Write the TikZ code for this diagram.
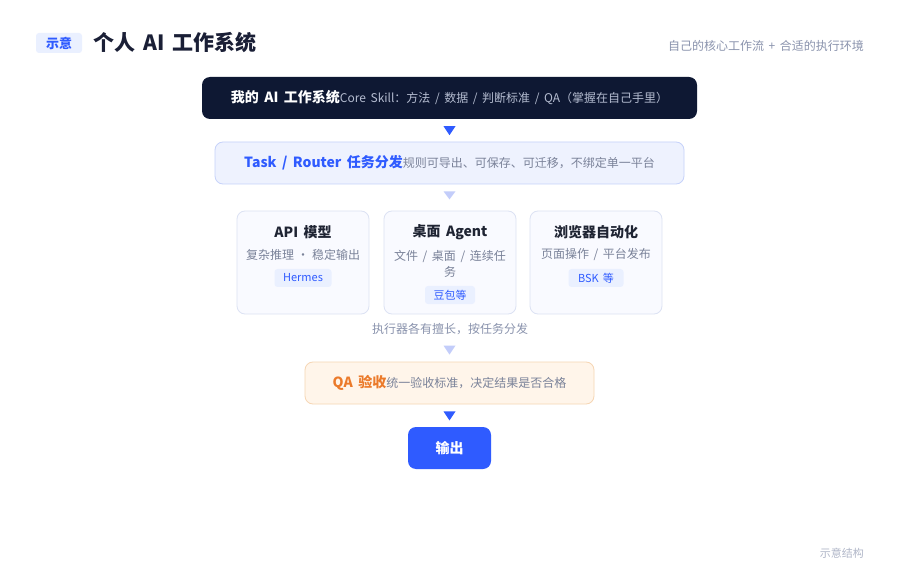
\documentclass[tikz,border=0pt]{standalone}
\usepackage{fontspec}
\setmainfont{Noto Sans CJK SC}[WordSpace=1.7]
\usetikzlibrary{calc}
\definecolor{navy}{HTML}{0E1833}
\definecolor{brand}{HTML}{2F5BFF}
\definecolor{lav}{HTML}{C3CDFA}
\definecolor{rfill}{HTML}{EEF2FE}
\definecolor{rline}{HTML}{C6D2FA}
\definecolor{cfill}{HTML}{F9FAFF}
\definecolor{cline}{HTML}{DCE2F3}
\definecolor{subg}{HTML}{7A8299}
\definecolor{capg}{HTML}{8A93AD}
\definecolor{ttl}{HTML}{1A1F36}
\definecolor{ctitle}{HTML}{1F2433}
\definecolor{orng}{HTML}{EB7A2A}
\definecolor{qfill}{HTML}{FFF5EA}
\definecolor{qline}{HTML}{F6D6B4}
\definecolor{tagfill}{HTML}{EAF0FF}
\definecolor{lightg}{HTML}{B0B6C8}
\definecolor{coreg}{HTML}{B4BCD0}
\tikzset{
  box/.style={rounded corners=8pt, minimum height=42pt, inner sep=0pt},
  card/.style={rounded corners=8pt, draw=cline, fill=cfill, line width=0.8pt, minimum width=132pt, minimum height=103pt, inner sep=0pt},
  tagbox/.style={rounded corners=3pt, fill=tagfill, text=brand, inner sep=0pt, minimum height=18pt, font=\fontsize{11}{13}\selectfont},
  ctit/.style={text=ctitle, font=\bfseries\fontsize{14}{17}\selectfont, inner sep=0pt},
  csub/.style={text=subg, font=\fontsize{12}{16}\selectfont, inner sep=0pt, align=center},
}
\begin{document}
\begin{tikzpicture}[x=1pt,y=-1pt]
\useasboundingbox[fill=white] (0,0) rectangle (900,580);
% header
\node[rounded corners=3pt, fill=tagfill, text=brand, font=\bfseries\fontsize{13}{15}\selectfont, minimum width=46pt, minimum height=20pt, inner sep=0pt] (tag) at (59,43) {示意};
\node[anchor=west, text=ttl, font=\bfseries\fontsize{21}{25}\selectfont, inner sep=0pt] (title) at (93,43) {个人\hspace{8pt}AI\hspace{8pt}工作系统};
\node[anchor=east, text=capg, font=\fontsize{12}{14}\selectfont, inner sep=0pt] (subt) at (864,46) {自己的核心工作流 + 合适的执行环境};
% box 1
\node[box, fill=navy, minimum width=495pt] (core) at (449.5,98) {{\bfseries\fontsize{14}{17}\selectfont\color{white}我的 AI 工作系统}{\fontsize{12}{14}\selectfont\color{coreg}Core Skill：方法 / 数据 / 判断标准 / QA（掌握在自己手里）}};
% box 2
\node[box, fill=rfill, draw=rline, line width=0.8pt, minimum width=469pt] (router) at (449.5,163) {{\bfseries\fontsize{14}{17}\selectfont\color{brand}Task / Router 任务分发}{\fontsize{12}{14}\selectfont\color{subg}规则可导出、可保存、可迁移，不绑定单一平台}};
% cards
\node[card] (c1) at (303,262.5) {};
\node[card] (c2) at (450,262.5) {};
\node[card] (c3) at (596,262.5) {};
\node[ctit] (c1t) at (303,232) {API 模型};
\node[csub] (c1s) at (303,255) {复杂推理\hspace{3pt}·\hspace{3pt}稳定输出};
\node[tagbox, minimum width=57pt] (c1g) at (303,278) {Hermes};
\node[ctit] (c2t) at (450,232) {桌面 Agent};
\node[csub] (c2s) at (450,263.5) {文件 / 桌面 / 连续任\\务};
\node[tagbox, minimum width=50pt] (c2g) at (450,295) {豆包等};
\node[ctit] (c3t) at (596,232) {浏览器自动化};
\node[csub] (c3s) at (596,255) {页面操作 / 平台发布};
\node[tagbox, minimum width=55pt] (c3g) at (596,278) {BSK 等};
\node[text=capg, font=\fontsize{12}{14}\selectfont, inner sep=0pt] (cap) at (450,329) {执行器各有擅长，按任务分发};
% QA
\node[box, fill=qfill, draw=qline, line width=0.8pt, minimum width=289pt] (qa) at (449.5,383) {{\bfseries\fontsize{14}{17}\selectfont\color{orng}QA 验收}{\fontsize{12}{14}\selectfont\color{subg}统一验收标准，决定结果是否合格}};
% output
\node[box, fill=brand, minimum width=83pt, text=white, font=\bfseries\fontsize{14}{17}\selectfont] (out) at (449.5,448) {输出};
% triangles
\fill[brand] ($(core.south)+(-6,7)$) -- ++(12,0) -- ++(-6,9) -- cycle;
\fill[lav] ($(router.south)+(-6,7)$) -- ++(12,0) -- ++(-6,8) -- cycle;
\fill[lav] ($(qa.north)+(-6,-16)$) -- ++(12,0) -- ++(-6,9) -- cycle;
\fill[brand] ($(qa.south)+(-6,7)$) -- ++(12,0) -- ++(-6,9) -- cycle;
% footer
\node[anchor=east, text=lightg, font=\fontsize{11}{13}\selectfont, inner sep=0pt] (foot) at (864,553) {示意结构};
\end{tikzpicture}
\end{document}
